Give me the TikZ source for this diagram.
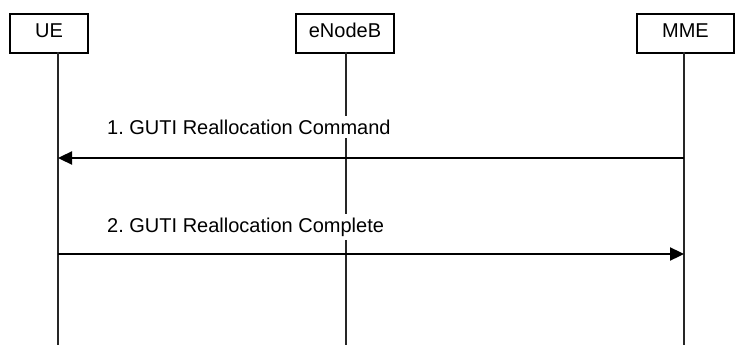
\documentclass[tikz,border=0pt]{standalone}
\usepackage{fontspec}
\setmainfont{Liberation Sans}
\usetikzlibrary{arrows.meta}
\frenchspacing
\begin{document}
\begin{tikzpicture}[x=1pt,y=-1pt,
  actorbox/.style={draw=black, line width=2pt, fill=white, anchor=north west,
    inner xsep=0pt, inner ysep=0pt, text height=24pt, text depth=15pt,
    font=\fontsize{20}{24}\selectfont},
  lifeline/.style={draw=black!85, line width=1.6pt},
  msg/.style={draw=black, line width=2.3pt, -{Triangle[length=14pt,width=13pt]}},
  msglabel/.style={fill=white, anchor=base west, inner xsep=2pt, inner ysep=4pt,
    font=\fontsize{20}{24}\selectfont}]
\useasboundingbox (0,0) rectangle (747,345);
\clip (0,0) rectangle (747,345);
\fill[white] (0,0) rectangle (747,345);
% actors
\node[actorbox, minimum width=78pt] (ue) at (9,13) {UE};
\node[actorbox, minimum width=98pt] (enb) at (295,13) {eNodeB};
\node[actorbox, minimum width=97pt] (mme) at (636,13) {MME};
% lifeline coordinates
\coordinate (ueT) at (58,52);   \coordinate (ueB) at (58,346);
\coordinate (enbT) at (346,52); \coordinate (enbB) at (346,346);
\coordinate (mmeT) at (684,52); \coordinate (mmeB) at (684,346);
\draw[lifeline] (ueT) -- (ueB);
\draw[lifeline] (enbT) -- (enbB);
\draw[lifeline] (mmeT) -- (mmeB);
% message points
\coordinate (m1s) at (684,158); \coordinate (m1e) at (58,158);
\coordinate (m2s) at (58,254);  \coordinate (m2e) at (684,254);
% labels
\node[msglabel] (l1) at (105,134) {1. GUTI Reallocation Command};
\node[msglabel] (l2) at (105,232) {2. GUTI Reallocation Complete};
% messages
\draw[msg] (m1s) -- (m1e);
\draw[msg] (m2s) -- (m2e);
\end{tikzpicture}
\end{document}
